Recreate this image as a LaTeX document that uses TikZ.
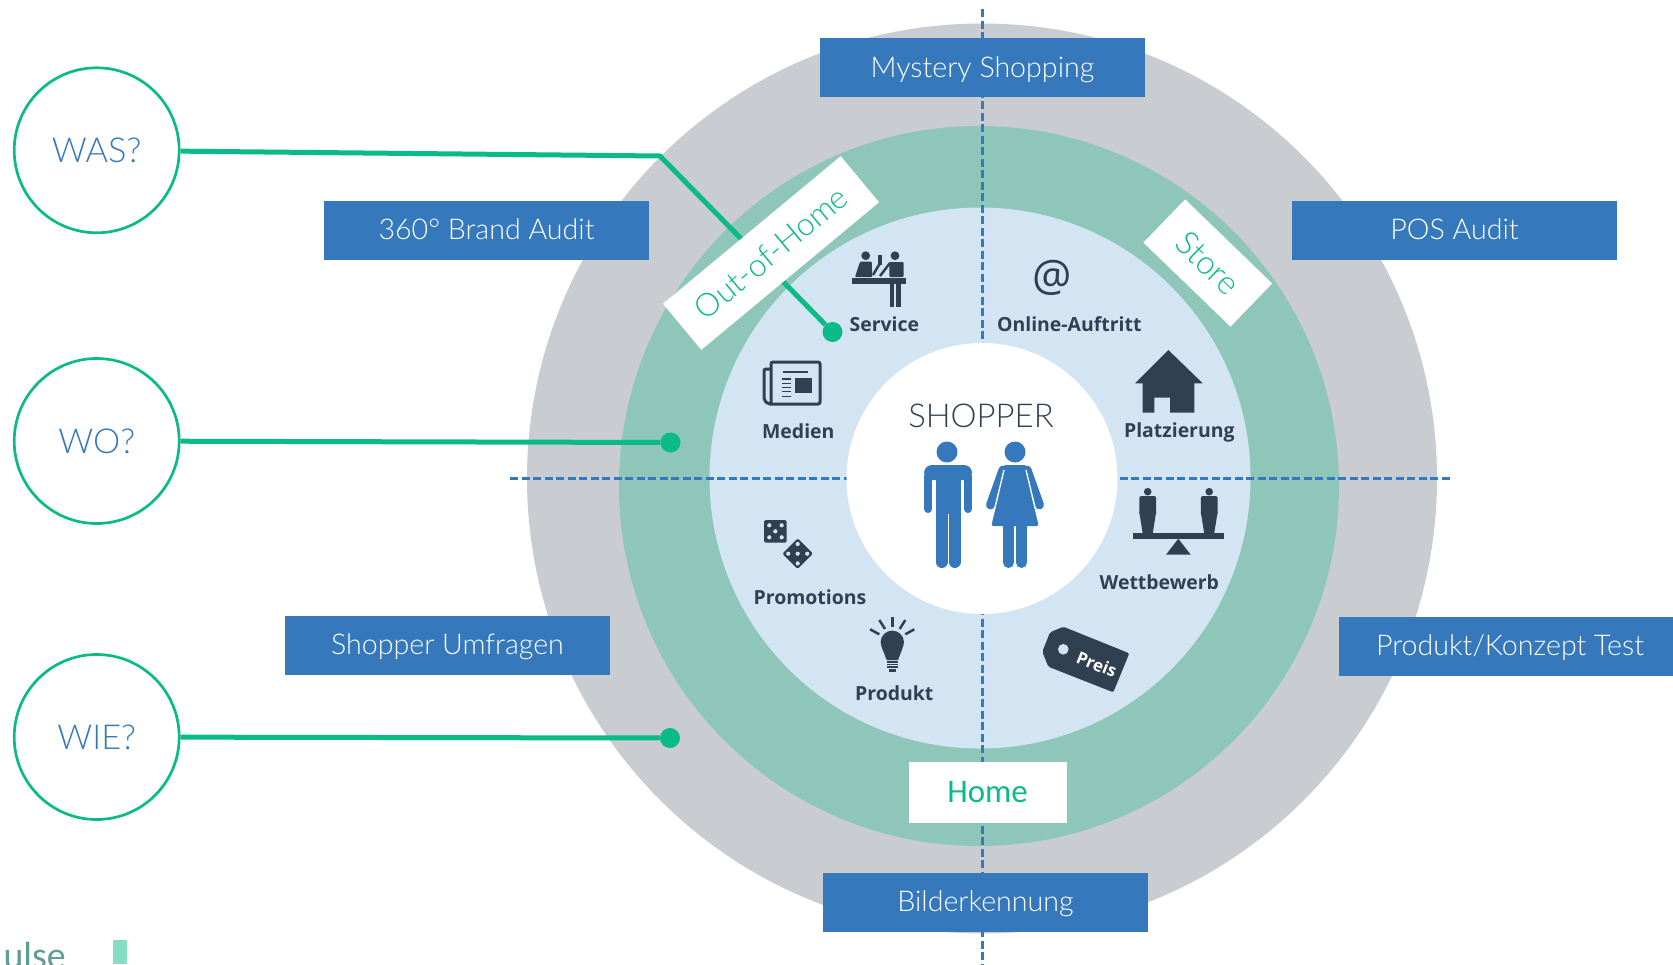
\documentclass[tikz,border=0pt]{standalone}
\usepackage{fontspec}
\setmainfont{Carlito}
\newfontfamily\lightfont{Lato Light}
\newfontfamily\labelfont{Open Sans}
\definecolor{ringgray}{HTML}{C9CCD1}
\definecolor{ringgreen}{HTML}{8FC6BA}
\definecolor{ringblue}{HTML}{D3E4F3}
\definecolor{boxblue}{HTML}{3579BC}
\definecolor{mint}{HTML}{0ABB87}
\definecolor{darkicon}{HTML}{2F4050}
\definecolor{restgreen}{HTML}{5F9C96}
\tikzset{
    bluebox/.style={fill=boxblue,text=white,minimum width=325bp,minimum height=59bp,inner sep=0bp,text height=25bp,text depth=6bp,font=\lightfont\fontsize{28.7}{34}\selectfont},
    whitelabel/.style={fill=white,text=mint,inner sep=0bp},
    question/.style={circle,draw=mint,line width=2.7bp,fill=white,minimum size=165bp,inner sep=0bp,text=boxblue,font=\lightfont\fontsize{34.5}{42}\selectfont},
    iconlabel/.style={text=darkicon,inner sep=0bp,font=\labelfont\fontsize{19.5}{24}\selectfont\bfseries},
    greenline/.style={draw=mint,line width=5bp},
    greendot/.style={circle,fill=mint,minimum size=20bp,inner sep=0bp},
    axisline/.style={boxblue,line width=3bp,dash pattern=on 8bp off 3.5bp}
}
\begin{document}
\begin{tikzpicture}[x=1bp,y=-1bp]
    \useasboundingbox (0,0) rectangle (1673,964);
    % Ringe
    \fill[ringgray] (982,478.5) circle (455bp);
    \fill[ringgreen] (979,486) circle (360bp);
    \fill[ringblue] (980,478) circle (270.5bp);
    % Achsen
    \draw[axisline] (982,9) -- (982,964);
    \draw[axisline] (510,478) -- (1450,478);
    \fill[white] (982,478.5) circle (135.5bp);
    % Fragen
    \node[question] (was) at (96.7,150.3) {WAS?};
    \node[question] (wo) at (96.7,441) {WO?};
    \node[question] (wie) at (96.7,737) {WIE?};
    % Linien
    \coordinate (kink) at (660,156);
    \node[greendot] (dotservice) at (832.5,332) {};
    \node[greendot] (dotwo) at (670.5,442.5) {};
    \node[greendot] (dotwie) at (670,738) {};
    \draw[greenline] (was) -- (kink) -- (dotservice);
    \draw[greenline] (wo) -- (dotwo);
    \draw[greenline] (wie) -- (dotwie);
    % Kästen
    \node[bluebox] (mystery) at (982.5,67.5) {Mystery Shopping};
    \node[bluebox] (brand) at (486.5,230) {360° Brand Audit};
    \node[bluebox] (pos) at (1454.5,230) {POS Audit};
    \node[bluebox] (umfragen) at (447.5,645) {Shopper Umfragen};
    \node[bluebox,minimum width=342bp] (konzept) at (1510,646) {Produkt/Konzept Test};
    \node[bluebox] (bilder) at (985.5,902) {Bilderkennung};
    % Orte
    \node[whitelabel,rotate=39.7,minimum width=231bp,minimum height=60bp,font=\lightfont\fontsize{32}{38}\selectfont] (outhome) at (771,253) {Out-of-Home};
    \node[whitelabel,rotate=-44,minimum width=121bp,minimum height=60bp,font=\lightfont\fontsize{33}{38}\selectfont] (store) at (1207.8,263) {Store};
    \node[whitelabel,minimum width=158bp,minimum height=61bp,font=\fontsize{33}{38}\selectfont] (home) at (987.5,792.5) {Home};
    % Mitte
    \node[text=darkicon,font=\lightfont\fontsize{33}{40}\selectfont] (shopper) at (981,416) {SHOPPER};
    % Mann
    \fill[boxblue] (947,452) circle (10.5bp);
    \fill[boxblue,rounded corners=8bp] (924,480) -- (924,465) -- (972,465) -- (972,480) -- cycle;
    \fill[boxblue] (935.5,470) rectangle (960.5,514);
    \draw[boxblue,line width=8bp,line cap=round] (928,476) -- (928,509);
    \draw[boxblue,line width=8bp,line cap=round] (968,476) -- (968,509);
    \draw[boxblue,line width=12bp,line cap=round] (941.5,512) -- (941.5,562);
    \draw[boxblue,line width=12bp,line cap=round] (954.5,512) -- (954.5,562);
    % Frau
    \fill[boxblue] (1015,452) circle (10.5bp);
    \draw[boxblue,line width=9bp,line cap=round] (1003,470) -- (990.5,505);
    \draw[boxblue,line width=9bp,line cap=round] (1027,470) -- (1039.5,505);
    \fill[boxblue,rounded corners=3bp] (1003,465) -- (1027,465) -- (1027,480) -- (1039.5,526) -- (990.5,526) -- (1003,480) -- cycle;
    \draw[white,line width=1.3bp] (1004,470) -- (990,528);
    \draw[white,line width=1.3bp] (1026,470) -- (1040,528);
    \draw[boxblue,line width=11bp,line cap=round] (1008.5,524) -- (1008.5,562.5);
    \draw[boxblue,line width=11bp,line cap=round] (1021.5,524) -- (1021.5,562.5);
    % Service
    \fill[darkicon] (852,277.7) rectangle (906,284);
    \fill[darkicon] (895,255.7) circle (4.4bp);
    \fill[darkicon] (865.7,255.7) circle (4.4bp);
    \fill[darkicon,rounded corners=1bp] (855,277) -- (860,261.7) -- (871.7,261.7) -- (872.3,277) -- cycle;
    \fill[darkicon] (878.3,255) rectangle (881.7,265);
    \draw[darkicon,line width=2.5bp] (873,275) -- (879.5,264);
    \fill[darkicon,rounded corners=1bp] (889.3,262) rectangle (903.5,277);
    \draw[darkicon,line width=2.5bp] (880,276) -- (890,263);
    \fill[darkicon] (889.5,284) rectangle (894.3,307);
    \fill[darkicon] (896.2,284) rectangle (901,307);
    \node[iconlabel] (service) at (884.3,324.3) {Service};
    % Medien
    \draw[darkicon,line width=3bp,rounded corners=2bp] (771,405) -- (771,362) -- (820,362) -- (820,404) -- (768,404) -- (764,400) -- (764,369) -- (771,369);
    \fill[darkicon] (783.3,371) rectangle (808.3,372.8);
    \fill[darkicon] (795,377.7) rectangle (811.7,393.3);
    \foreach \y in {378.3,382.6,386.9,391.2,395.5}
        \fill[darkicon] (781.7,\y) rectangle (791,\y+1.2);
    \node[iconlabel] (medien) at (798.3,431) {Medien};
    % Online
    \node[text=darkicon,inner sep=0bp,font=\labelfont\fontsize{44}{44}\selectfont] (at) at (1051.7,278) {@};
    \node[iconlabel] (online) at (1069.3,324.3) {Online-Auftritt};
    % Platzierung
    \fill[darkicon] (1168.3,350) -- (1202.7,383.3) -- (1194.3,383.3) -- (1194.3,412.7) -- (1170,412.7) -- (1170,397.7) -- (1154.3,397.7) -- (1154.3,412.7) -- (1142.7,412.7) -- (1142.7,383.3) -- (1135,383.3) -- cycle;
    \node[iconlabel] (platz) at (1179.3,432.5) {Platzierung};
    % Wettbewerb
    \fill[darkicon] (1132.7,533.3) rectangle (1224,538.7);
    \fill[darkicon] (1178.3,538.7) -- (1190.7,554.7) -- (1166,554.7) -- cycle;
    \foreach \x in {1147.7,1209.2}{
        \fill[darkicon] (\x,491.7) circle (3.8bp);
        \fill[darkicon,rounded corners=1.5bp] (\x-8.4,496) rectangle (\x+8.4,515);
        \fill[darkicon] (\x-8.4,512) -- (\x+8.4,512) -- (\x+5,533.5) -- (\x-5,533.5) -- cycle;
    }
    \node[iconlabel] (wett) at (1159.3,582.5) {Wettbewerb};
    % Promotions
    \fill[darkicon,rounded corners=1.5bp] (764,520) rectangle (786.7,542.7);
    \foreach \x/\y in {769.3/525.3,781.7/525.3,775.3/531.3,769.3/537.3,781.7/537.3}
        \fill[ringblue] (\x,\y) circle (2.1bp);
    \fill[darkicon,rounded corners=1.5bp] (797.7,538.4) -- (813,553.7) -- (797.7,569) -- (782.4,553.7) -- cycle;
    \foreach \x/\y in {797.7/544,797.7/553.7,797.7/563.4,788.2/553.7,807.2/553.7}
        \fill[ringblue] (\x,\y) circle (2.1bp);
    \node[iconlabel] (promo) at (810,597.5) {Promotions};
    % Produkt
    \fill[darkicon] (892.3,642.3) circle (11.7bp);
    \fill[darkicon] (882,648) -- (902.6,648) -- (898,660) -- (886.7,660) -- cycle;
    \foreach \y in {662,664.5,667}
        \draw[darkicon,line width=1.3bp] (887,\y) -- (897.5,\y);
    \fill[darkicon] (889,669) rectangle (895.5,671.5);
    \draw[darkicon,line width=2.5bp] (892.3,616.7) -- (892.3,626.5);
    \draw[darkicon,line width=2.5bp] (879.3,620) -- (885,629);
    \draw[darkicon,line width=2.5bp] (905.3,620) -- (899.7,629);
    \draw[darkicon,line width=2.5bp] (870,629.3) -- (879.3,634.3);
    \draw[darkicon,line width=2.5bp] (914.3,629.3) -- (905.3,634.3);
    \node[iconlabel] (produkt) at (894.3,693.5) {Produkt};
    % Preis
    \fill[darkicon,rounded corners=2bp] (1063.3,626.7) -- (1129.3,653.3) -- (1113.3,692.3) -- (1048.3,666.7) -- (1042.3,651.7) -- (1050,632.3) -- cycle;
    \fill[ringblue] (1063.3,649.3) circle (5.3bp);
    \node[text=white,inner sep=0bp,rotate=-22,font=\labelfont\fontsize{17}{20}\selectfont\bfseries] (preis) at (1096.7,664.3) {Preis};
    % Rest unten
    \node[anchor=base east,inner sep=0bp,text=restgreen,font=\fontsize{38}{44}\selectfont] (ulse) at (66,968) {ulse};
    \fill[mint!50!white] (113,940) rectangle (127,964);
\end{tikzpicture}
\end{document}
